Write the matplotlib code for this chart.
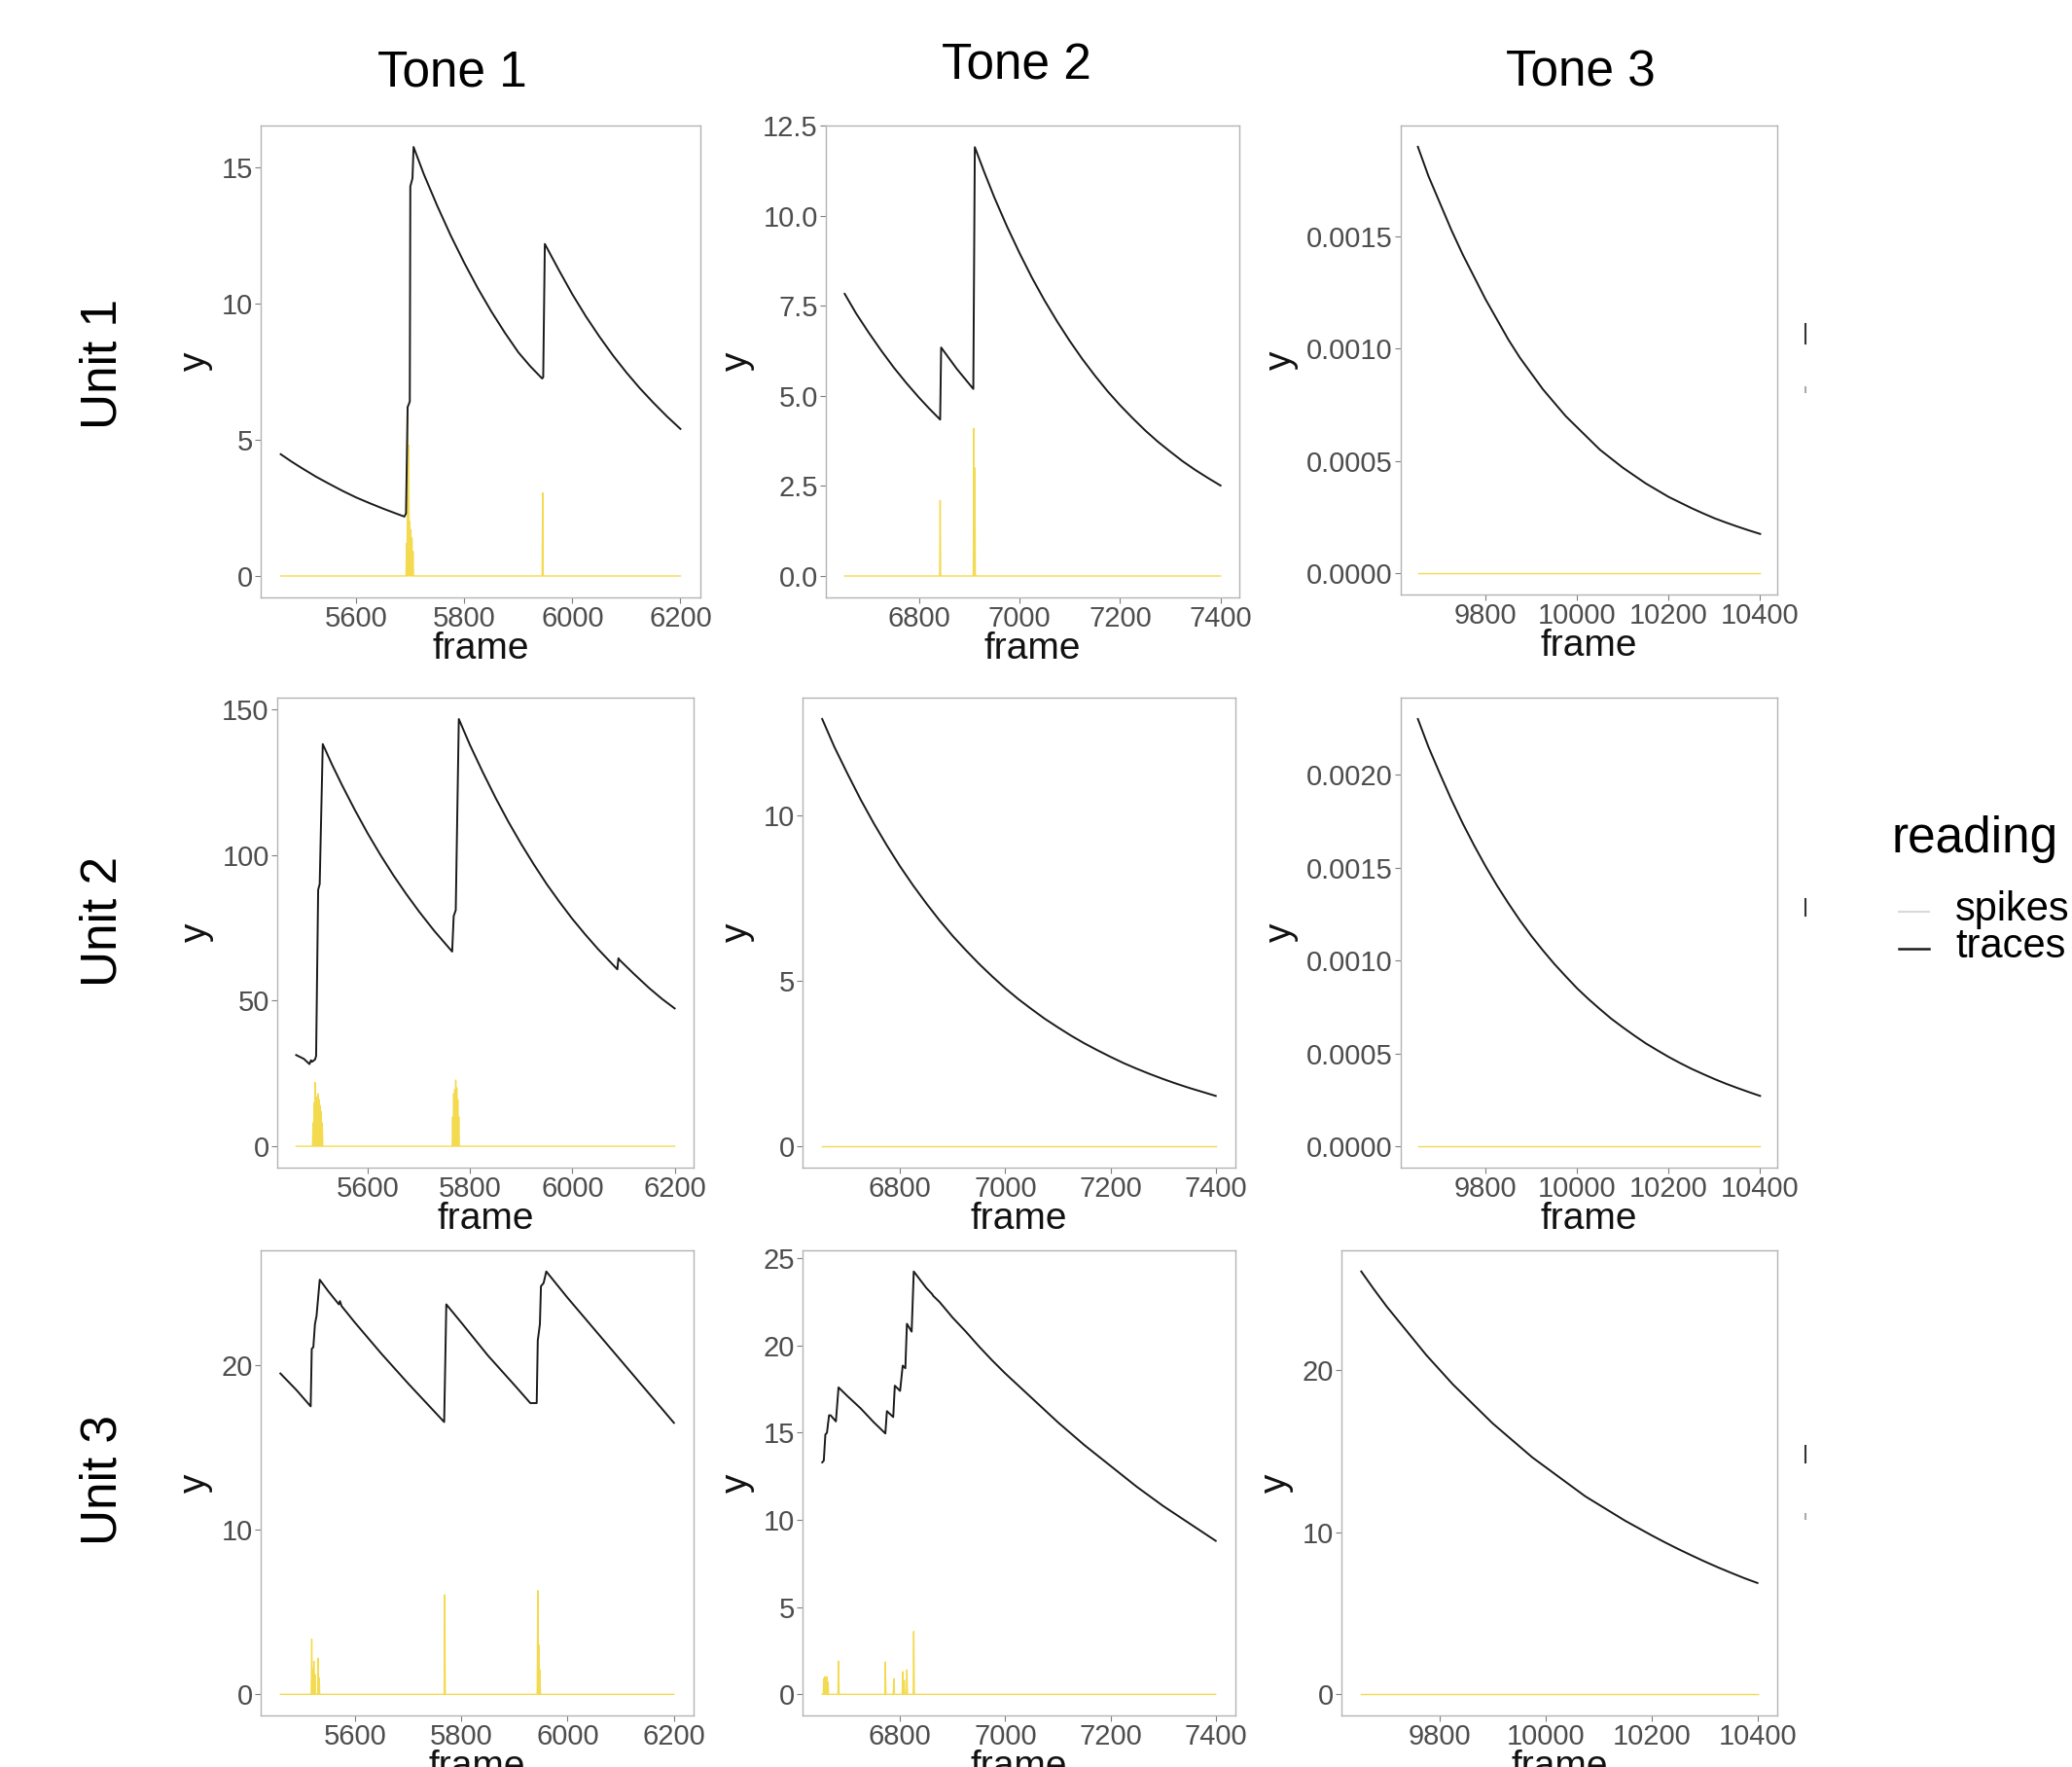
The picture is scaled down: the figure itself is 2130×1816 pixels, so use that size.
import numpy as np
import matplotlib.pyplot as plt
from matplotlib.lines import Line2D

plt.rcParams['font.family'] = ['Liberation Sans', 'DejaVu Sans']

# ---- column frame ranges ----
col_start = [5460, 6652, 9652]
col_end = [6200, 7400, 10400]

# ---- traces (frame, value) ----
t11_frame = [5460, 5480, 5500, 5525, 5550, 5575, 5600, 5625, 5650, 5670, 5689, 5692, 5695, 5699, 5700, 5704,
             5706, 5725, 5750, 5775, 5800, 5825, 5850, 5875, 5900, 5922, 5944, 5946, 5949, 5975, 6000, 6025,
             6050, 6075, 6100, 6125, 6150, 6175, 6200]
t11_y = [4.47, 4.20, 3.95, 3.65, 3.38, 3.12, 2.88, 2.67, 2.47, 2.32, 2.18, 2.3, 6.2, 6.4, 14.3, 14.6,
         15.75, 14.75, 13.58, 12.49, 11.49, 10.56, 9.71, 8.93, 8.21, 7.70, 7.25, 7.3, 12.19, 11.23, 10.34, 9.53,
         8.79, 8.10, 7.47, 6.89, 6.36, 5.86, 5.40]

t12_frame = [6652, 6675, 6700, 6725, 6750, 6775, 6800, 6820, 6842, 6844, 6875, 6908, 6911, 6930, 6950, 6975,
             7000, 7025, 7050, 7075, 7100, 7125, 7150, 7175, 7200, 7225, 7250, 7275, 7300, 7325, 7350, 7375, 7400]
t12_y = [7.83, 7.28, 6.75, 6.25, 5.78, 5.35, 4.95, 4.65, 4.34, 6.34, 5.75, 5.19, 11.9, 11.2, 10.5, 9.70,
         8.96, 8.27, 7.64, 7.06, 6.52, 6.02, 5.56, 5.13, 4.74, 4.38, 4.04, 3.73, 3.45, 3.18, 2.94, 2.72, 2.51]

t13_frame = [9652, 9675, 9700, 9725, 9750, 9775, 9800, 9825, 9850, 9875, 9900, 9925, 9950, 9975, 10000, 10025,
             10050, 10075, 10100, 10125, 10150, 10175, 10200, 10225, 10250, 10275, 10300, 10325, 10350, 10375, 10400]
t13_y = [0.00190, 0.00177, 0.00165, 0.00153, 0.00142, 0.00132, 0.00122, 0.00113, 0.00104, 0.00096, 0.00089,
         0.00082, 0.00076, 0.00070, 0.00065, 0.00060, 0.00055, 0.00051, 0.00047, 0.000435, 0.00040, 0.00037,
         0.00034, 0.000315, 0.00029, 0.000267, 0.000245, 0.000226, 0.000208, 0.000191, 0.000175]

t21_frame = [5460, 5475, 5486, 5489, 5491, 5497, 5499, 5503, 5506, 5512, 5530, 5550, 5575, 5600, 5625, 5650,
             5675, 5700, 5730, 5765, 5768, 5772, 5778, 5800, 5825, 5850, 5875, 5900, 5925, 5950, 5975, 6000,
             6025, 6050, 6070, 6088, 6090, 6093, 6120, 6150, 6175, 6200]
t21_y = [31.3, 30.0, 28.2, 29.5, 29.0, 29.8, 31.0, 88.0, 90.0, 138.0, 131.0, 123.8, 115.3, 107.3, 99.9, 93.0,
         86.6, 80.6, 73.9, 66.8, 79.0, 81.0, 146.6, 137.6, 128.3, 119.5, 111.3, 103.7, 96.6, 89.9, 83.8, 78.0,
         72.7, 67.7, 64.0, 60.7, 64.5, 63.8, 59.2, 54.3, 50.6, 47.3]

t22_frame = [6652, 6675, 6700, 6725, 6750, 6775, 6800, 6825, 6850, 6875, 6900, 6925, 6950, 6975, 7000, 7025,
             7050, 7075, 7100, 7125, 7150, 7175, 7200, 7225, 7250, 7275, 7300, 7325, 7350, 7375, 7400]
t22_y = [12.9, 12.06, 11.25, 10.47, 9.75, 9.08, 8.45, 7.87, 7.33, 6.82, 6.35, 5.92, 5.51, 5.13, 4.77, 4.44,
         4.14, 3.85, 3.59, 3.34, 3.11, 2.90, 2.70, 2.51, 2.34, 2.18, 2.03, 1.89, 1.76, 1.64, 1.52]

t23_frame = [9652, 9675, 9700, 9725, 9750, 9775, 9800, 9825, 9850, 9875, 9900, 9925, 9950, 9975, 10000, 10025,
             10050, 10075, 10100, 10125, 10150, 10175, 10200, 10225, 10250, 10275, 10300, 10325, 10350, 10375, 10400]
t23_y = [0.002300, 0.002150, 0.002006, 0.001867, 0.001738, 0.001619, 0.001507, 0.001403, 0.001307, 0.001216,
         0.001132, 0.001055, 0.000982, 0.000915, 0.000850, 0.000792, 0.000738, 0.000686, 0.000640, 0.000596,
         0.000554, 0.000517, 0.000481, 0.000448, 0.000417, 0.000389, 0.000362, 0.000337, 0.000314, 0.000292,
         0.000271]

t31_frame = [5460, 5490, 5517, 5519, 5522, 5525, 5528, 5534, 5550, 5570, 5572, 5575, 5600, 5650, 5700, 5768,
             5772, 5800, 5850, 5900, 5930, 5942, 5944, 5948, 5950, 5955, 5960, 6000, 6050, 6100, 6150, 6200]
t31_y = [19.5, 18.5, 17.5, 21.0, 21.1, 22.5, 23.0, 25.2, 24.5, 23.7, 23.9, 23.6, 22.6, 20.7, 18.9, 16.55,
         23.7, 22.6, 20.6, 18.8, 17.7, 17.7, 21.5, 22.5, 24.8, 25.0, 25.7, 24.1, 22.2, 20.3, 18.4, 16.5]

t32_frame = [6652, 6655, 6658, 6661, 6665, 6668, 6678, 6683, 6700, 6725, 6750, 6772, 6775, 6787, 6790, 6800,
             6805, 6810, 6813, 6822, 6826, 6850, 6861, 6863, 6875, 6900, 6925, 6950, 6975, 7000, 7025, 7050,
             7075, 7100, 7125, 7150, 7175, 7200, 7225, 7250, 7275, 7300, 7325, 7350, 7375, 7400]
t32_y = [13.3, 13.4, 14.9, 15.0, 16.0, 16.0, 15.65, 17.6, 17.1, 16.4, 15.6, 14.96, 16.24, 15.9, 17.7, 17.4,
         18.85, 18.7, 21.25, 20.8, 24.25, 23.3, 22.95, 22.85, 22.5, 21.6, 20.8, 19.95, 19.15, 18.4, 17.7, 17.0,
         16.3, 15.6, 14.95, 14.3, 13.7, 13.1, 12.5, 11.9, 11.35, 10.8, 10.3, 9.8, 9.3, 8.8]

t33_frame = [9652, 9675, 9700, 9725, 9750, 9775, 9800, 9825, 9850, 9875, 9900, 9925, 9950, 9975, 10000, 10025,
             10050, 10075, 10100, 10125, 10150, 10175, 10200, 10225, 10250, 10275, 10300, 10325, 10350, 10375, 10400]
t33_y = [26.06, 25.0, 23.9, 22.9, 21.9, 20.9, 20.0, 19.1, 18.3, 17.5, 16.7, 16.0, 15.3, 14.6, 14.0, 13.4,
         12.8, 12.2, 11.7, 11.2, 10.7, 10.25, 9.8, 9.37, 8.96, 8.57, 8.19, 7.83, 7.49, 7.16, 6.86]

# ---- spikes (frame of each non-zero reading, value) ----
s11_frame = [5693, 5695, 5697, 5699, 5701, 5703, 5705, 5945]
s11_y = [1.2, 6.2, 4.8, 2.0, 1.7, 1.4, 0.9, 3.05]
s12_frame = [6842, 6909, 6911]
s12_y = [2.1, 4.1, 3.0]
s13_frame, s13_y = [], []
s21_frame = [5493, 5495, 5497, 5499, 5501, 5503, 5505, 5507, 5509, 5511,
             5766, 5768, 5770, 5772, 5774, 5776, 5778]
s21_y = [8, 15, 21.9, 17, 16.6, 18, 16, 14, 12, 8,
         10, 18, 19.5, 22.7, 20, 16, 10]
s22_frame, s22_y = [], []
s23_frame, s23_y = [], []
s31_frame = [5519, 5521, 5523, 5525, 5531, 5533, 5769, 5944, 5946, 5948]
s31_y = [3.35, 1.5, 2.0, 1.2, 2.2, 1.0, 6.05, 6.3, 3.0, 1.5]
s32_frame = [6655, 6657, 6659, 6661, 6663, 6683, 6772, 6788, 6805, 6808, 6813, 6826]
s32_y = [0.9, 1.0, 0.8, 1.0, 0.7, 1.9, 1.85, 0.9, 1.3, 0.8, 1.4, 3.6]
s33_frame, s33_y = [], []

tones = ["Tone 1", "Tone 2", "Tone 3"]
units = ["Unit 1", "Unit 2", "Unit 3"]
xticks = [[5600, 5800, 6000, 6200], [6800, 7000, 7200, 7400], [9800, 10000, 10200, 10400]]
yticks = [[[0, 5, 10, 15], [0, 2.5, 5, 7.5, 10, 12.5], [0, 0.0005, 0.001, 0.0015]],
          [[0, 50, 100, 150], [0, 5, 10], [0, 0.0005, 0.001, 0.0015, 0.002]],
          [[0, 10, 20], [0, 5, 10, 15, 20, 25], [0, 10, 20]]]
yfmt = [["{:.0f}", "{:.1f}", "{:.4f}"],
        ["{:.0f}", "{:.0f}", "{:.4f}"],
        ["{:.0f}", "{:.0f}", "{:.0f}"]]

traces = [[(t11_frame, t11_y), (t12_frame, t12_y), (t13_frame, t13_y)],
          [(t21_frame, t21_y), (t22_frame, t22_y), (t23_frame, t23_y)],
          [(t31_frame, t31_y), (t32_frame, t32_y), (t33_frame, t33_y)]]
spikes = [[(s11_frame, s11_y), (s12_frame, s12_y), (s13_frame, s13_y)],
          [(s21_frame, s21_y), (s22_frame, s22_y), (s23_frame, s23_y)],
          [(s31_frame, s31_y), (s32_frame, s32_y), (s33_frame, s33_y)]]

# panel boxes in pixels: left, right, top, bottom
boxes = [[(268, 720, 129, 614), (849, 1274, 129, 614), (1440, 1827, 129, 611)],
         [(285, 713, 717, 1200), (825, 1270, 717, 1200), (1440, 1827, 717, 1200)],
         [(268, 713, 1285, 1763), (825, 1270, 1285, 1763), (1379, 1827, 1285, 1763)]]

W, H = 2130, 1816
fig = plt.figure(figsize=(W / 100, H / 100), dpi=100)
fig.patch.set_facecolor("white")

spike_col = "#f2d430"
tick_col = "#4d4d4d"

for r in range(3):
    for c in range(3):
        l, rr, t, b = boxes[r][c]
        ax = fig.add_axes([l / W, 1 - b / H, (rr - l) / W, (b - t) / H])
        # spike readings: zero everywhere except at the listed frames
        sf, sv = spikes[r][c]
        xs, ys = [col_start[c]], [0]
        for f, v in zip(sf, sv):
            xs += [f - 1, f, f + 1]
            ys += [0, v, 0]
        xs.append(col_end[c])
        ys.append(0)
        ax.plot(xs, ys, color=spike_col, lw=1.0, alpha=0.85)
        tf, tv = traces[r][c]
        ax.plot(tf, tv, color="#1a1a1a", lw=1.4)

        ax.set_xticks(xticks[c])
        ax.set_yticks(yticks[r][c])
        ax.set_yticklabels([yfmt[r][c].format(v) for v in yticks[r][c]])
        ax.tick_params(axis="both", labelsize=21, colors="#7f7f7f", labelcolor=tick_col,
                       length=4, width=0.8, pad=2)
        for s in ax.spines.values():
            s.set_color("#b3b3b3")
            s.set_linewidth(1.0)
        ax.set_xlabel("frame", fontsize=28, labelpad=-1, color="#111111")
        ax.set_ylabel("y", fontsize=28, labelpad=6, color="#111111")

# column and row headers
for c, (name, x) in enumerate(zip(tones, [465, 1045, 1625])):
    fig.text(x / W, 1 - [75, 68, 75][c] / H, name, fontsize=37, ha="center", va="center")
for r, (name, y) in enumerate(zip(units, [374, 947, 1521])):
    fig.text(106 / W, 1 - y / H, name, fontsize=37, ha="center", va="center", rotation=90)

# legend
fig.text(1945 / W, 1 - 863 / H, "reading", fontsize=37, ha="left", va="center")
fig.add_artist(Line2D([1952 / W, 1983 / W], [1 - 937 / H, 1 - 937 / H], color="#d9d9d9", lw=1.5))
fig.add_artist(Line2D([1952 / W, 1983 / W], [1 - 975 / H, 1 - 975 / H], color="#1a1a1a", lw=1.8))
fig.text(2010 / W, 1 - 935 / H, "spikes", fontsize=30, ha="left", va="center")
fig.text(2010 / W, 1 - 973 / H, "traces", fontsize=30, ha="left", va="center")

# leftover fragments of cropped legends
for y0, y1, col in [(333, 353, "#333333"), (398, 403, "#aaaaaa"), (924, 941, "#333333"),
                    (1486, 1503, "#333333"), (1556, 1561, "#aaaaaa")]:
    fig.add_artist(Line2D([1856 / W, 1856 / W], [1 - y0 / H, 1 - y1 / H], color=col, lw=1.5))

fig.savefig("out.png", dpi=100, facecolor="white")
